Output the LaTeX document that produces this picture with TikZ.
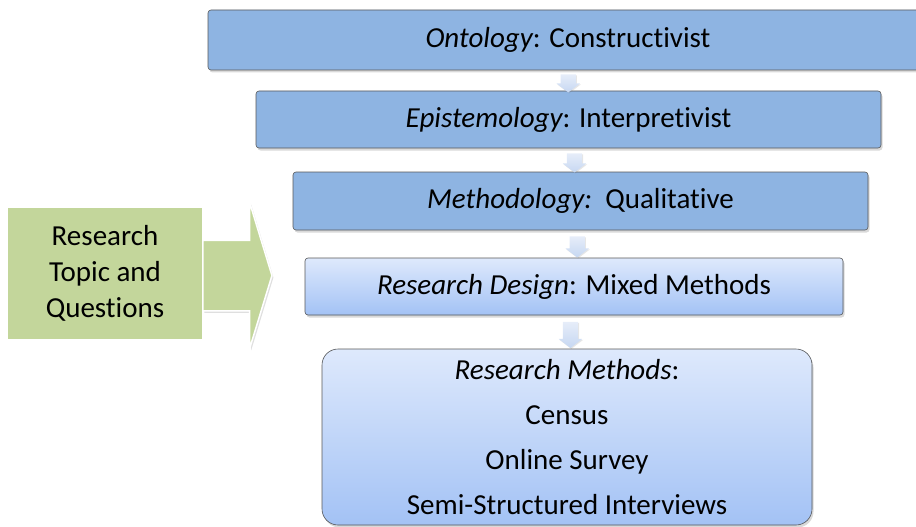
\documentclass[tikz,border=0pt]{standalone}
\usepackage{fontspec}
\setmainfont{Carlito}[Ligatures=NoCommon]
\usetikzlibrary{calc,shadows,shapes.arrows}

\definecolor{levelblue}{RGB}{142,180,226}
\definecolor{lighttop}{RGB}{222,233,252}
\definecolor{lightbot}{RGB}{163,194,245}
\definecolor{arrtop}{RGB}{230,237,249}
\definecolor{arrbot}{RGB}{198,215,242}
\definecolor{topicgreen}{RGB}{195,214,155}

\begin{document}
\begin{tikzpicture}[x=1pt,y=-1pt,
    level/.style={draw=black!65,line width=.6pt,rounded corners=3pt,fill=levelblue,inner sep=0pt,
        drop shadow={shadow xshift=1.5pt,shadow yshift=-2.5pt,opacity=.3},font=\fontsize{29}{35}\selectfont},
    lightlevel/.style={level,top color=lighttop,bottom color=lightbot},
    downarr/.style={single arrow,shape border rotate=270,inner xsep=7.5pt,inner ysep=0pt,
        single arrow head extend=4pt,single arrow tip angle=105,top color=arrtop,bottom color=arrbot,
        drop shadow={shadow xshift=.8pt,shadow yshift=-1pt,opacity=.2}},
    topicarr/.style={single arrow,inner xsep=0pt,inner ysep=34.5pt,minimum height=69pt,
        single arrow head extend=37.5pt,single arrow tip angle=146,fill=topicgreen,draw=white,line width=1.5pt,
        drop shadow={shadow xshift=1.5pt,shadow yshift=-2pt,opacity=.25}}]
    \clip (0,0) rectangle (916,527);

    \node[level,minimum width=720pt,minimum height=60pt] (onto) at (568,40) {{\itshape Ontology}: Constructivist};
    \node[level,minimum width=625pt,minimum height=57pt] (epis) at (568.5,119.5) {{\itshape Epistemology}: Interpretivist};
    \node[level,minimum width=575pt,minimum height=58pt] (meth) at (580.5,201) {{\itshape Methodology:}\ \ Qualitative};
    \node[lightlevel,minimum width=538pt,minimum height=57pt] (design) at (574,286.5) {{\itshape Research Design}: Mixed Methods};
    \node[lightlevel,rounded corners=16pt,minimum width=490pt,minimum height=176pt,align=center,
        font=\fontsize{29}{44.7}\selectfont] (methods) at (567,437)
        {{\itshape Research Methods}:\\Census\\Online Survey\\Semi-Structured Interviews};

    \foreach \a/\b/\len in {onto/epis/18,epis/meth/19,meth/design/21,design/methods/26}
        \node[downarr,minimum height=\len pt] at ($(\a.south)!.5!(\b.north)$) {};

    \node[fill=topicgreen,minimum width=194pt,minimum height=131pt,align=center,
        font=\fontsize{29}{36}\selectfont] (topic) at (105,273.5) {Research\\Topic and\\Questions};
    \node[topicarr,anchor=tail] (topicarrow) at (topic.east |- 0,275.5) {};
\end{tikzpicture}
\end{document}
